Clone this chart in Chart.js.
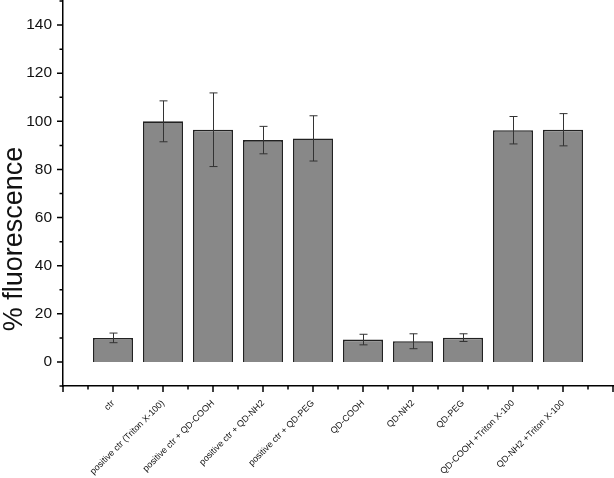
<!DOCTYPE html>
<html>
<head>
<meta charset="utf-8">
<script src="https://cdn.jsdelivr.net/npm/chart.js@4/dist/chart.umd.min.js"></script>
<style>
  html, body { margin: 0; padding: 0; background: #fff; }
  #wrap { width: 614px; height: 478px; }
</style>
</head>
<body>
<div id="wrap"><canvas id="c"></canvas></div>
<script>
const categories = ['ctr', 'positive ctr (Triton X-100)', 'positive ctr + QD-COOH', 'positive ctr + QD-NH2',
  'positive ctr + QD-PEG', 'QD-COOH', 'QD-NH2', 'QD-PEG', 'QD-COOH +Triton X-100', 'QD-NH2 +Triton X-100'];
const values = [10, 100, 96.5, 92.2, 92.9, 9.3, 8.6, 10.1, 96.3, 96.5];
const errors = [2.0, 8.5, 15.3, 5.7, 9.4, 2.2, 3.1, 1.6, 5.7, 6.7];
const yTicks = [0, 20, 40, 60, 80, 100, 120, 140];
const yTitle = '% fluorescence';
const FONT = 'Liberation Sans, Arial, sans-serif';

const $ = id => document.getElementById(id);

// error bars, minor/major tick marks and the y title, drawn through the chart scales
const extras = {
  id: 'extras',
  afterDatasetsDraw(chart) {
    const { ctx, scales: { x, y } } = chart;
    ctx.save();
    ctx.strokeStyle = '#333';
    ctx.lineWidth = 1;
    values.forEach((v, i) => {
      const px = Math.round(x.getPixelForValue(i)) + 0.5;
      const top = y.getPixelForValue(v + errors[i]), bot = y.getPixelForValue(v - errors[i]);
      ctx.beginPath();
      ctx.moveTo(px, top); ctx.lineTo(px, bot);
      ctx.moveTo(px - 4, top); ctx.lineTo(px + 4, top);
      ctx.moveTo(px - 4, bot); ctx.lineTo(px + 4, bot);
      ctx.stroke();
    });
    ctx.restore();
  },
  afterDraw(chart) {
    const { ctx, scales: { x, y } } = chart;
    ctx.save();
    ctx.strokeStyle = '#000';
    ctx.lineWidth = 1.5;
    ctx.beginPath();
    for (let v = -1; v <= 10; v += 0.5) {
      const px = x.getPixelForValue(v), len = Number.isInteger(v) ? 6 : 3.5;
      ctx.moveTo(px, x.top); ctx.lineTo(px, x.top + len);
    }
    for (let v = -10; v <= 150; v += 10) {
      const py = y.getPixelForValue(v), len = v % 20 === 0 ? 6 : 3.5;
      ctx.moveTo(y.right, py); ctx.lineTo(y.right - len, py);
    }
    ctx.stroke();
    // y title, centred on the figure height like the original
    ctx.translate(15, chart.height / 2);
    ctx.rotate(-Math.PI / 2);
    ctx.fillStyle = '#111';
    ctx.font = `27px ${FONT}`;
    ctx.textAlign = 'center';
    ctx.textBaseline = 'middle';
    ctx.fillText(yTitle, 0, 0);
    ctx.restore();
  }
};

new Chart($('c'), {
  type: 'bar',
  data: {
    datasets: [{
      data: values.map((v, i) => ({ x: i, y: v })),
      backgroundColor: '#888888',
      borderColor: '#222',
      borderWidth: 1.6,
      barPercentage: 1,
      categoryPercentage: 0.8
    }]
  },
  options: {
    responsive: true, maintainAspectRatio: false, animation: false,
    layout: { padding: { top: 1, right: 1, left: 0, bottom: 0 } },
    plugins: { legend: { display: false }, tooltip: { enabled: false } },
    scales: {
      x: {
        type: 'linear', min: -1, max: 10, offset: false,
        grid: { display: false, drawTicks: false },
        border: { color: '#000', width: 1.5 },
        afterFit: s => { s.height = 92; s.paddingLeft = 0; s.paddingRight = 0; },
        ticks: {
          stepSize: 1, autoSkip: false, minRotation: 45, maxRotation: 45, padding: 12,
          color: '#111', font: { family: FONT, size: 9 },
          callback: v => (Number.isInteger(v) && v >= 0 && v < categories.length) ? categories[v] : ''
        }
      },
      y: {
        min: -10, max: 150,
        grid: { display: false, drawTicks: false },
        border: { color: '#000', width: 1.5 },
        afterFit: s => { s.width = 63; s.paddingTop = 0; s.paddingBottom = 0; },
        afterBuildTicks: s => { s.ticks = yTicks.map(value => ({ value })); },
        ticks: {
          padding: 11, color: '#111',
          font: { family: FONT, size: 15.5 }
        }
      }
    }
  },
  plugins: [extras]
});
</script>
</body>
</html>
